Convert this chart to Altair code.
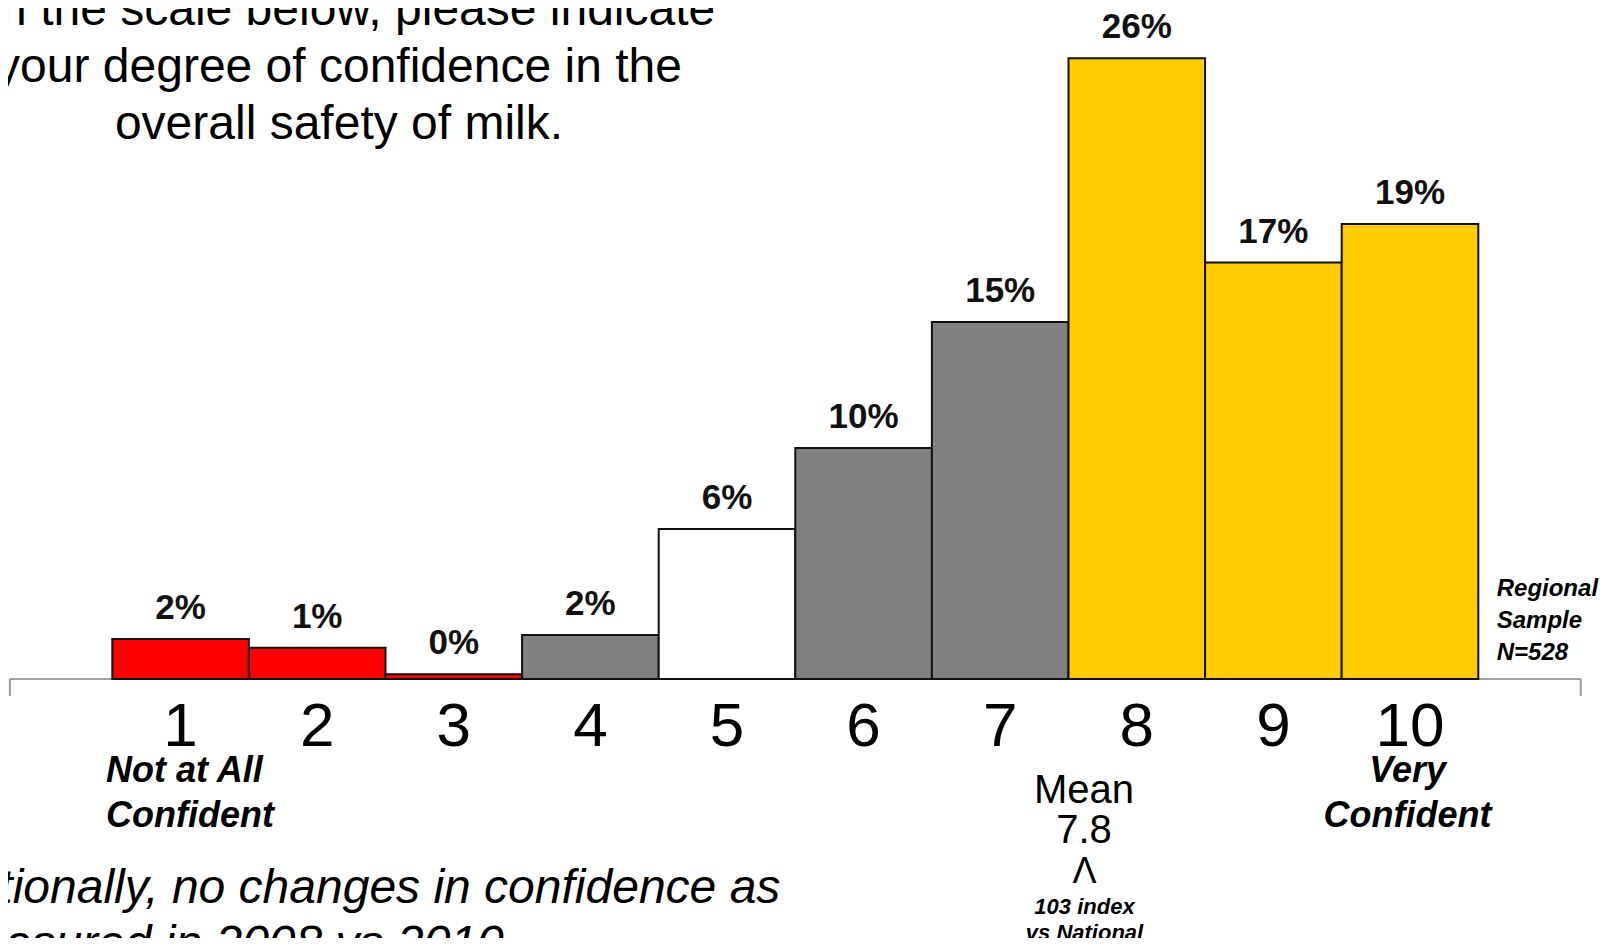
import altair as alt
import pandas as pd

# ---------------- data ----------------
categories = [1, 2, 3, 4, 5, 6, 7, 8, 9, 10]
values = [1.67, 1.30, 0.20, 1.83, 6.25, 9.62, 14.88, 25.86, 17.35, 18.96]
value_labels = ["2%", "1%", "0%", "2%", "6%", "10%", "15%", "26%", "17%", "19%"]
bar_colors = ["#FF0000", "#FF0000", "#FF0000", "#808080", "#FFFFFF",
              "#808080", "#808080", "#FFCC00", "#FFCC00", "#FFCC00"]
tick_labels = ["1", "2", "3", "4", "5", "6", "7", "8", "9", "10"]
axis_ends = [-0.25, 11.25]

title_lines = ["On the scale below, please indicate",
               "your degree of confidence in the",
               "overall safety of milk."]
low_anchor = ["Not at All", "Confident"]
high_anchor = ["Very", "Confident"]
mean_lines = ["Mean", "7.8"]
mean_marker = "\u039b"
index_lines = ["103 index", "vs National"]
sample_lines = ["Regional", "Sample", "N=528"]
footnote_lines = ["Nationally, no changes in confidence as",
                  "measured in 2008 vs 2010"]

FONT = "Liberation Sans"
W, H = 1605, 930

df = pd.DataFrame({
    "cat": categories,
    "lo": [c - 0.5 for c in categories],
    "hi": [c + 0.5 for c in categories],
    "value": values,
    "zero": [0] * len(categories),
    "label": value_labels,
    "tick": tick_labels,
    "color": bar_colors,
})
axis_df = pd.DataFrame({"start": [axis_ends[0]], "end": [axis_ends[1]], "zero": [0]})
ends_df = pd.DataFrame({"pos": axis_ends})
one = pd.DataFrame({"a": [0]})

xs = alt.Scale(domain=[-0.2635, 11.4861], nice=False, zero=False)
ys = alt.Scale(domain=[-10.7917, 27.9583], nice=False, zero=False)

axis_line = alt.Chart(axis_df).mark_rule(color="#808080", strokeWidth=1.5).encode(
    x=alt.X("start:Q", scale=xs, axis=None),
    x2="end:Q",
    y=alt.Y("zero:Q", scale=ys, axis=None),
)
end_ticks = alt.Chart(ends_df).mark_rule(color="#9a9a9a", strokeWidth=2).encode(
    x=alt.X("pos:Q", scale=xs, axis=None),
    y=alt.value(671),
    y2=alt.value(688),
)
bars = alt.Chart(df).mark_rect(stroke="#111111", strokeWidth=2).encode(
    x=alt.X("lo:Q", scale=xs, axis=None),
    x2="hi:Q",
    y=alt.Y("zero:Q", scale=ys, axis=None),
    y2="value:Q",
    color=alt.Color("color:N", scale=None, legend=None),
)
pct = alt.Chart(df).mark_text(font=FONT, fontSize=35, fontWeight="bold",
                              baseline="alphabetic", dy=-20, color="#111111").encode(
    x=alt.X("cat:Q", scale=xs, axis=None),
    y=alt.Y("value:Q", scale=ys, axis=None),
    text="label:N",
)
ticks = alt.Chart(df).mark_text(font=FONT, fontSize=62, baseline="alphabetic",
                                color="black").encode(
    x=alt.X("cat:Q", scale=xs, axis=None),
    y=alt.value(738),
    text="tick:N",
)


def txt(text, x, y, size, weight="normal", style="normal", align="center"):
    return alt.Chart(one).mark_text(
        font=FONT, fontSize=size, fontWeight=weight, fontStyle=style,
        align=align, baseline="alphabetic", color="black", text=text,
    ).encode(x=alt.value(x), y=alt.value(y))


notes = []
for t, yy in zip(title_lines, [17, 73.7, 131.3]):
    notes.append(txt(t, 331, yy, 48))
for t, yy in zip(low_anchor, [773.7, 818.7]):
    notes.append(txt(t, 98, yy, 36, "bold", "italic", "left"))
for t, yy in zip(high_anchor, [773.7, 818.7]):
    notes.append(txt(t, 1399.6, yy, 36, "bold", "italic"))
for t, yy in zip(mean_lines, [795.3, 835.3]):
    notes.append(txt(t, 1076, yy, 40))
notes.append(txt(mean_marker, 1076.5, 874.7, 36))
for t, yy in zip(index_lines, [906, 932]):
    notes.append(txt(t, 1076.5, yy, 22, "bold", "italic"))
for t, yy in zip(sample_lines, [588, 620.3, 652]):
    notes.append(txt(t, 1488.7, yy, 24, "bold", "italic", "left"))
for t, yy in zip(footnote_lines, [894.7, 951]):
    notes.append(txt(t, -70, yy, 48, "normal", "italic", "left"))

chart = alt.layer(axis_line, end_ticks, bars, pct, ticks, *notes).properties(
    width=W, height=H,
    autosize=alt.AutoSizeParams(type="none"),
    padding=0,
).configure_view(stroke=None)

chart.save("out.html", embed_options={"renderer": "svg", "actions": False})
